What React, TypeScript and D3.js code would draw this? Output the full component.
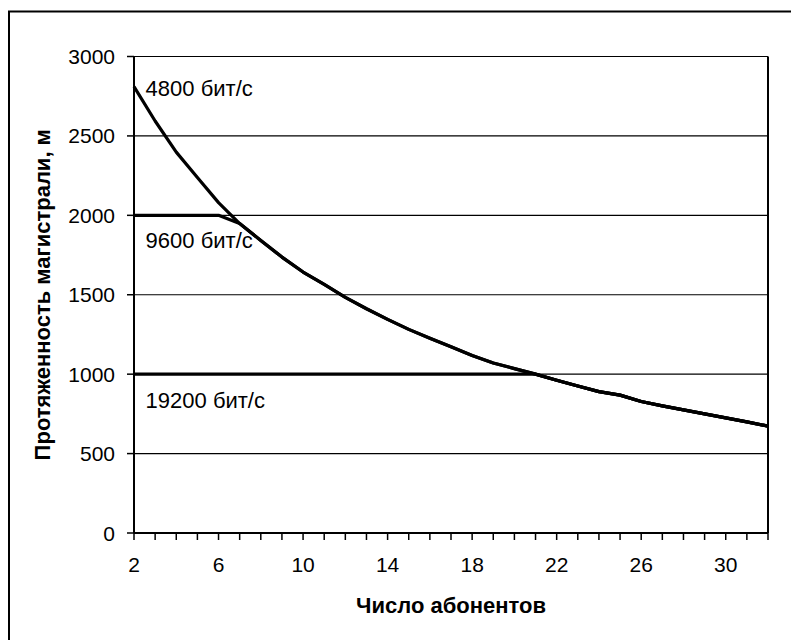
import * as d3 from 'd3';

// Число абонентов (ось X)
const subscribers = [
  2, 3, 4, 5, 6, 7, 8, 9, 10, 11, 12, 13, 14, 15, 16, 17,
  18, 19, 20, 21, 22, 23, 24, 25, 26, 27, 28, 29, 30, 31, 32,
];

// Протяженность магистрали, м
const len4800 = [
  2810, 2594, 2398, 2238, 2080, 1948, 1842, 1737, 1643, 1565, 1483, 1412, 1345, 1282, 1226, 1172,
  1117, 1070, 1035, 1000, 962, 926, 890, 868, 828, 800, 775, 750, 725, 700, 673,
];
const len9600 = [
  2000, 2000, 2000, 2000, 2000, 1948, 1842, 1737, 1643, 1565, 1483, 1412, 1345, 1282, 1226, 1172,
  1117, 1070, 1035, 1000, 962, 926, 890, 868, 828, 800, 775, 750, 725, 700, 673,
];
const len19200 = [
  1000, 1000, 1000, 1000, 1000, 1000, 1000, 1000, 1000, 1000, 1000, 1000, 1000, 1000, 1000, 1000,
  1000, 1000, 1000, 1000, 962, 926, 890, 868, 828, 800, 775, 750, 725, 700, 673,
];

const seriesLabels = [
  { text: '4800 бит/с', n: 2.55, v: 2750 },
  { text: '9600 бит/с', n: 2.55, v: 1795 },
  { text: '19200 бит/с', n: 2.55, v: 787 },
];

const yTicks = [0, 500, 1000, 1500, 2000, 2500, 3000];
const xTickLabels = [2, 6, 10, 14, 18, 22, 26, 30];

const font = '"Liberation Sans", Arial, sans-serif';

export default function App() {
  const width = 791;
  const height = 640;
  const margin = { top: 56.5, right: 23, bottom: 107, left: 134 };

  const x = d3
    .scaleLinear()
    .domain([2, 32])
    .range([margin.left, width - margin.right]);
  const y = d3
    .scaleLinear()
    .domain([0, 3000])
    .range([height - margin.bottom, margin.top]);

  const line = d3
    .line<number>()
    .x((_, i) => x(subscribers[i]))
    .y((v) => y(v));

  const series = [len19200, len9600, len4800];
  const x0 = x(2);
  const x1 = x(32);
  const yBottom = y(0);
  const yTop = y(3000);

  return (
    <svg
      width={width}
      height={height}
      style={{ position: 'absolute', left: 0, top: 0, background: '#fff' }}
      fontFamily={font}
    >
      <rect x={9} y={11.5} width={900} height={700} fill="none" stroke="#000" strokeWidth={2} />

      {yTicks
        .filter((t) => t > 0)
        .map((t) => (
          <line key={t} x1={x0} x2={x1} y1={y(t)} y2={y(t)} stroke="#000" strokeWidth={1.2} />
        ))}

      {series.map((s, i) => (
        <path
          key={i}
          d={line(s) ?? ''}
          fill="none"
          stroke="#000"
          strokeWidth={3.2}
          strokeLinejoin="round"
        />
      ))}

      {/* оси */}
      <line x1={x1} x2={x1} y1={yTop} y2={yBottom} stroke="#000" strokeWidth={2} />
      <line x1={x0} x2={x0} y1={yTop} y2={yBottom} stroke="#000" strokeWidth={2} />
      <line x1={x0} x2={x1} y1={yBottom} y2={yBottom} stroke="#000" strokeWidth={2} />

      {yTicks.map((t) => (
        <g key={t}>
          <line x1={x0 - 7} x2={x0} y1={y(t)} y2={y(t)} stroke="#000" strokeWidth={1.5} />
          <text x={x0 - 19} y={y(t)} dy="0.36em" textAnchor="end" fontSize={21}>
            {t}
          </text>
        </g>
      ))}

      {subscribers.map((n) => (
        <line key={n} x1={x(n)} x2={x(n)} y1={yBottom} y2={yBottom + 7} stroke="#000" strokeWidth={1.5} />
      ))}
      {xTickLabels.map((n) => (
        <text key={n} x={x(n)} y={yBottom + 39} textAnchor="middle" fontSize={21}>
          {n}
        </text>
      ))}

      {seriesLabels.map((l) => (
        <text key={l.text} x={x(l.n)} y={y(l.v)} fontSize={22}>
          {l.text}
        </text>
      ))}

      <text x={(x0 + x1) / 2} y={613} textAnchor="middle" fontSize={22} fontWeight="bold">
        Число абонентов
      </text>
      <text
        transform={`translate(50,${(yTop + yBottom) / 2}) rotate(-90)`}
        textAnchor="middle"
        fontSize={22}
        fontWeight="bold"
      >
        Протяженность магистрали, м
      </text>
    </svg>
  );
}
